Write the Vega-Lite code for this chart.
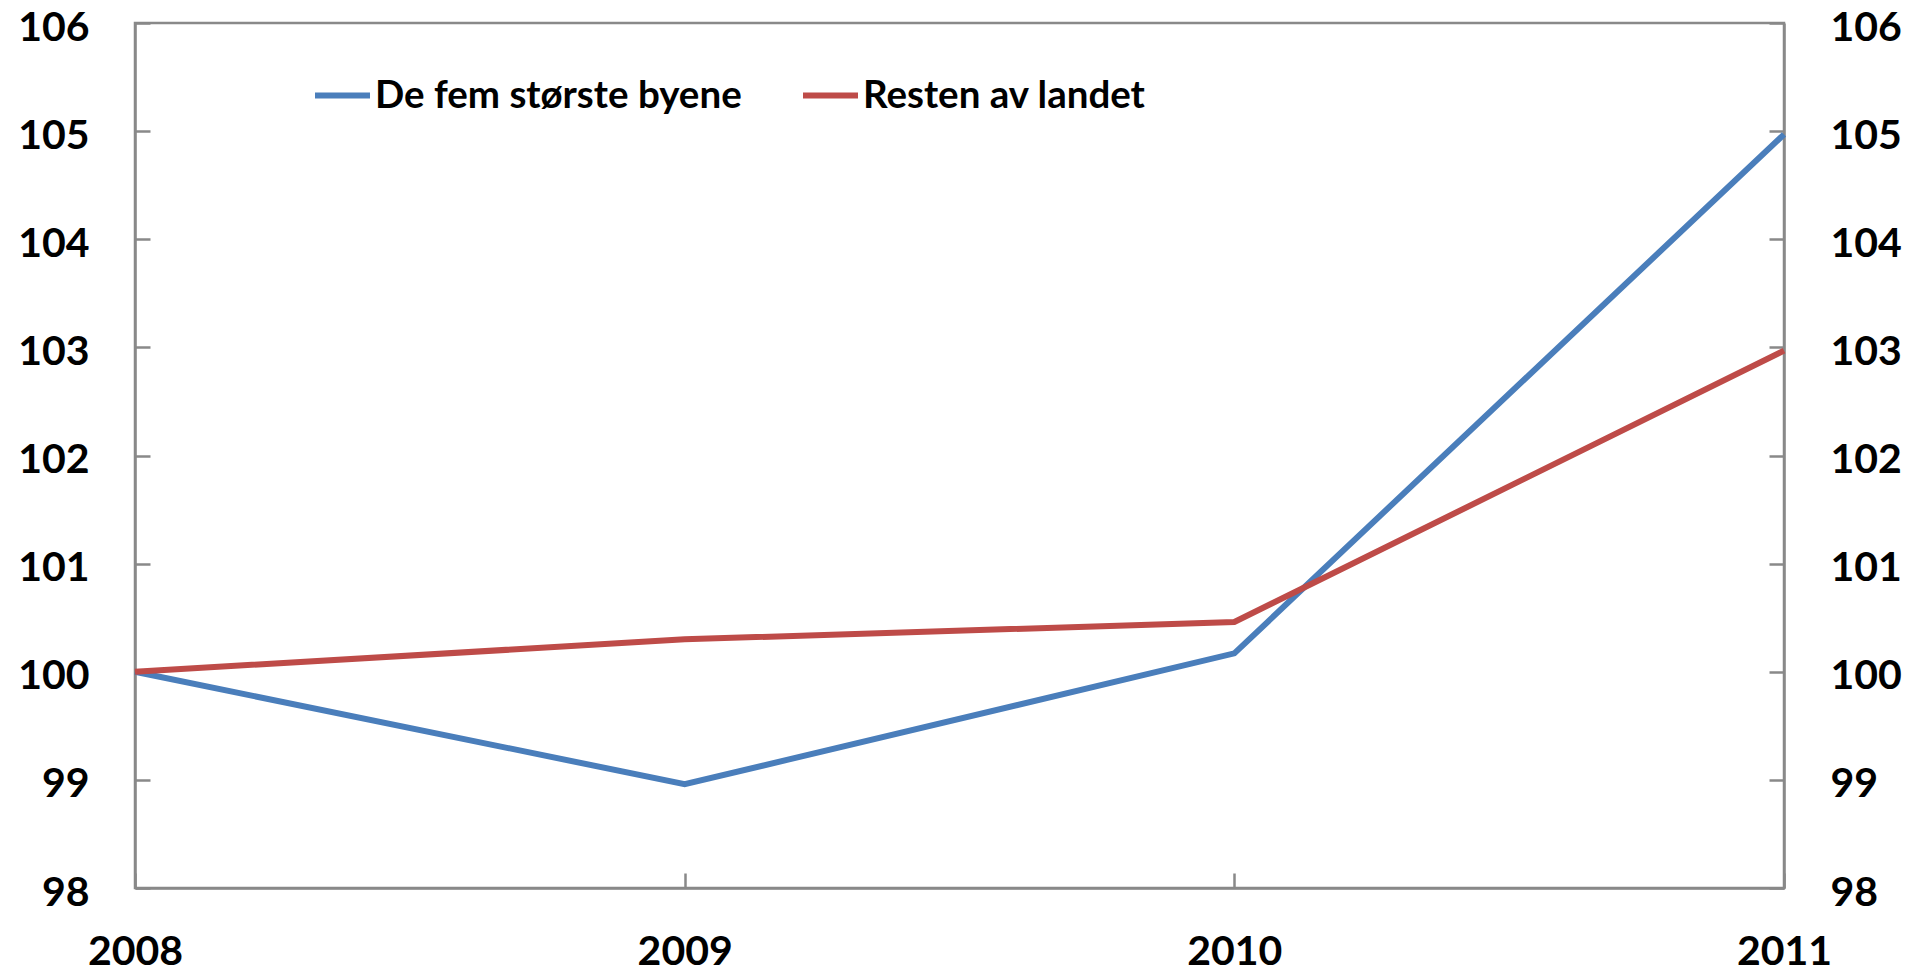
{
  "$schema": "https://vega.github.io/schema/vega-lite/v6.json",
  "width": 1649,
  "height": 865,
  "autosize": {"type": "none"},
  "padding": {"left": 135, "top": 23, "right": 123, "bottom": 88},
  "background": "white",
  "data": {
    "values": [
      {"year": 2008, "serie": "De fem største byene", "value": 100.0},
      {"year": 2009, "serie": "De fem største byene", "value": 98.96},
      {"year": 2010, "serie": "De fem største byene", "value": 100.17},
      {"year": 2011, "serie": "De fem største byene", "value": 104.97},
      {"year": 2008, "serie": "Resten av landet", "value": 100.0},
      {"year": 2009, "serie": "Resten av landet", "value": 100.3},
      {"year": 2010, "serie": "Resten av landet", "value": 100.46},
      {"year": 2011, "serie": "Resten av landet", "value": 102.97}
    ]
  },
  "config": {
    "view": {"stroke": "#898989", "strokeWidth": 2.5},
    "axis": {
      "labelFont": "Lato",
      "labelFontWeight": "bold",
      "labelFontSize": 41,
      "labelColor": "black",
      "domainColor": "#898989",
      "domainWidth": 2.5,
      "tickColor": "#898989",
      "tickWidth": 2.5,
      "tickSize": -15,
      "grid": false,
      "title": null
    }
  },
  "layer": [
    {
      "mark": {"type": "line", "strokeWidth": 6},
      "encoding": {
        "x": {
          "field": "year",
          "type": "quantitative",
          "scale": {"domain": [2008, 2011], "nice": false, "zero": false},
          "axis": {"values": [2008, 2009, 2010, 2011], "format": "d", "labelPadding": 59, "labelBaseline": "top", "labelFlush": false, "labelOverlap": false}
        },
        "y": {
          "field": "value",
          "type": "quantitative",
          "scale": {"domain": [98, 106], "nice": false, "zero": false},
          "axis": {"orient": "left", "values": [98, 99, 100, 101, 102, 103, 104, 105, 106], "labelPadding": 61, "labelOffset": 5, "labelFlush": false, "labelOverlap": false}
        },
        "color": {
          "field": "serie",
          "type": "nominal",
          "scale": {"domain": ["De fem største byene", "Resten av landet"], "range": ["#4A7EBB", "#BE4B48"]},
          "legend": {
            "title": null,
            "orient": "none",
            "direction": "horizontal",
            "legendX": 177,
            "legendY": 42,
            "symbolType": "stroke",
            "symbolSize": 3025,
            "symbolStrokeWidth": 6,
            "labelFont": "Lato",
            "labelFontWeight": "bold",
            "labelFontSize": 38.5,
            "labelColor": "black",
            "labelOffset": 2,
            "columnPadding": 49,
            "labelLimit": 0
          }
        }
      }
    },
    {
      "mark": {"type": "line", "opacity": 0},
      "encoding": {
        "x": {"field": "year", "type": "quantitative", "scale": {"domain": [2008, 2011], "nice": false, "zero": false}},
        "y": {
          "field": "value",
          "type": "quantitative",
          "scale": {"domain": [98, 106], "nice": false, "zero": false},
          "axis": {"orient": "right", "values": [98, 99, 100, 101, 102, 103, 104, 105, 106], "labelPadding": 61, "labelOffset": 5, "labelFlush": false, "labelOverlap": false}
        },
        "detail": {"field": "serie", "type": "nominal"}
      }
    }
  ],
  "resolve": {"scale": {"y": "independent"}}
}
